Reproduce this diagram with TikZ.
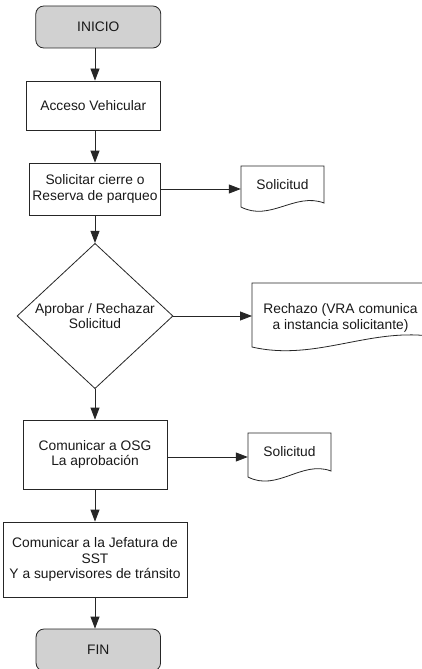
\documentclass[tikz,border=0pt]{standalone}
\usepackage{fontspec}
\setmainfont{Liberation Sans}
\usetikzlibrary{arrows.meta,shapes.geometric}

\tikzset{
  every node/.style={font=\fontsize{13.8}{15.5}\selectfont, align=center, inner sep=0pt, text=black!90},
  ln/.style={draw=black!85, line width=0.8pt},
  terminal/.style={ln, rounded corners=8pt, fill=black!18},
  process/.style={ln, rectangle},
  decision/.style={ln, diamond, minimum width=156pt, minimum height=142pt},
  arr/.style={color=black!85, line width=0.8pt, -{Triangle[length=12pt,width=9pt,fill=black!85]}},
  doctext/.style={rectangle},
}

% document symbol with a wavy bottom edge: left, right, top, right-bottom, left-bottom
\newcommand{\docshape}[5]{%
  \draw[ln, fill=white] (#1,#3) -- (#2,#3) -- (#2,#4)
    .. controls ({#1+0.65*(#2-#1)},{#4-11}) and ({#1+0.35*(#2-#1)},{#5+15}) .. (#1,#5) -- cycle;}

\begin{document}
\begin{tikzpicture}[x=1pt,y=-1pt]
  \useasboundingbox (0,0) rectangle (422,669);
  \clip (0,0) rectangle (422,669);
  \fill[white] (0,0) rectangle (422,669);

  \coordinate (spine) at (95,0);

  % main flow
  \node[terminal, minimum width=125pt, minimum height=42pt] (ini) at (98.3,27) {INICIO};
  \node[process, minimum width=134.7pt, minimum height=49pt] (acc) at (93.3,105.5) {Acceso Vehicular};
  \node[process, minimum width=131.7pt, minimum height=52pt] (sol) at (95,189) {Solicitar cierre o\\Reserva de parqueo};
  \node[decision] (dec) at (95,316) {Aprobar / Rechazar\\Solicitud};
  \node[process, minimum width=144pt, minimum height=69pt] (osg) at (95,454.5) {Comunicar a OSG\\La aprobaci\'on};
  \node[process, minimum width=184pt, minimum height=75pt] (jef) at (95,559.5) {Comunicar a la Jefatura de\\SST\\Y a supervisores de tr\'ansito};
  \node[terminal, minimum width=124.5pt, minimum height=42pt] (fin) at (98.3,650) {FIN};

  % documents
  \docshape{241}{324}{166}{203}{207}
  \node[doctext, minimum width=83pt, minimum height=37pt] (d1) at (282.5,184.5) {Solicitud};

  \docshape{252}{436}{283}{337}{347}
  \node[doctext] (d2) at (340.5,318) {Rechazo (VRA comunica\\a instancia solicitante)};
  \coordinate (d2w) at (252,316);

  \docshape{248}{331}{433}{471}{477}
  \node[doctext, minimum width=83pt, minimum height=38pt] (d3) at (289.5,452) {Solicitud};

  % connectors
  \draw[arr] (ini.south -| spine) -- (acc.north -| spine);
  \draw[arr] (acc.south -| spine) -- (sol.north -| spine);
  \draw[arr] (sol.south -| spine) -- (dec.north);
  \draw[arr] (dec.south) -- (osg.north);
  \draw[arr] (osg.south) -- (jef.north);
  \draw[arr] (jef.south -| spine) -- (fin.north -| spine);

  \draw[arr] (sol.east) -- (sol.east -| d1.west);
  \draw[arr] (dec.east) -- (d2w);
  \draw[arr] (osg.east |- 0,457) -- (d3.west |- 0,457);
\end{tikzpicture}
\end{document}
